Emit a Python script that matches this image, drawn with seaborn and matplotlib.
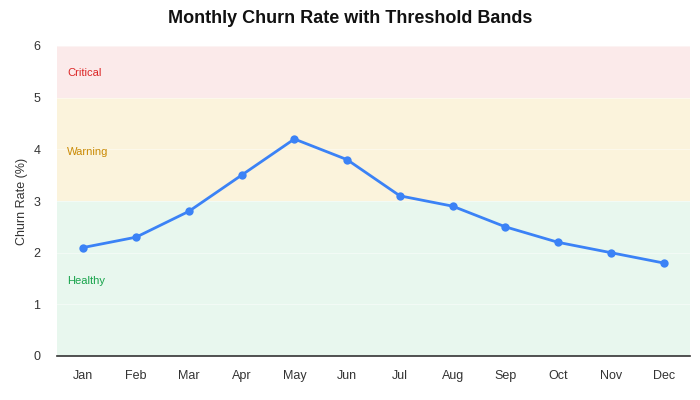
import matplotlib
matplotlib.use("Agg")
import matplotlib.pyplot as plt
import seaborn as sns
import pandas as pd

months = ["Jan", "Feb", "Mar", "Apr", "May", "Jun", "Jul", "Aug", "Sep", "Oct", "Nov", "Dec"]
churn = [2.1, 2.3, 2.8, 3.5, 4.2, 3.8, 3.1, 2.9, 2.5, 2.2, 2.0, 1.8]
band_names = ["Healthy", "Warning", "Critical"]
band_lo = [0, 3, 5]
band_hi = [3, 5, 6]
band_label_y = [1.45, 3.95, 5.48]
band_fill = ["#e8f7ee", "#fbf3dc", "#fbeaea"]
band_text = ["#16a34a", "#ca8a04", "#dc2626"]

sns.set_theme(style="white")
plt.rcParams["font.family"] = ["Liberation Sans", "DejaVu Sans"]

df = pd.DataFrame({"Month": months, "Churn": churn})
df["x"] = range(len(months))

fig = plt.figure(figsize=(7, 4), dpi=100)
ax = fig.add_axes([0.0814, 0.11, 0.9043, 0.775])

for lo, hi, c in zip(band_lo, band_hi, band_fill):
    ax.axhspan(lo, hi, color=c, zorder=0, lw=0)
for y in range(0, 7):
    ax.axhline(y, color="white", lw=0.8, alpha=0.45, zorder=1)
for name, ly, tc in zip(band_names, band_label_y, band_text):
    ax.text(0.016, ly, name, color=tc, fontsize=8, va="center", ha="left",
            transform=ax.get_yaxis_transform(), zorder=2)

sns.lineplot(data=df, x="x", y="Churn", ax=ax, color="#3b82f6", lw=2,
             marker="o", markersize=6, markeredgewidth=0, zorder=3)

ax.set_xlim(-0.5, len(months) - 0.5)
ax.set_ylim(0, 6)
ax.set_xticks(range(len(months)))
ax.set_xticklabels(months)
ax.set_yticks(range(0, 7))
ax.tick_params(axis="both", labelsize=9, colors="#333333", length=0)
ax.tick_params(axis="x", pad=10)
ax.tick_params(axis="y", pad=12)
ax.set_xlabel("")
ax.set_ylabel("Churn Rate (%)", fontsize=9, color="#333333")
ax.yaxis.set_label_coords(-0.046, 0.5)
for s in ["top", "right", "left"]:
    ax.spines[s].set_visible(False)
ax.spines["bottom"].set_color("#333333")
ax.spines["bottom"].set_linewidth(1.2)
ax.grid(False)

fig.suptitle("Monthly Churn Rate with Threshold Bands", fontsize=13, fontweight="bold",
             color="#111111", y=0.975)

fig.savefig("out.png", dpi=100)
